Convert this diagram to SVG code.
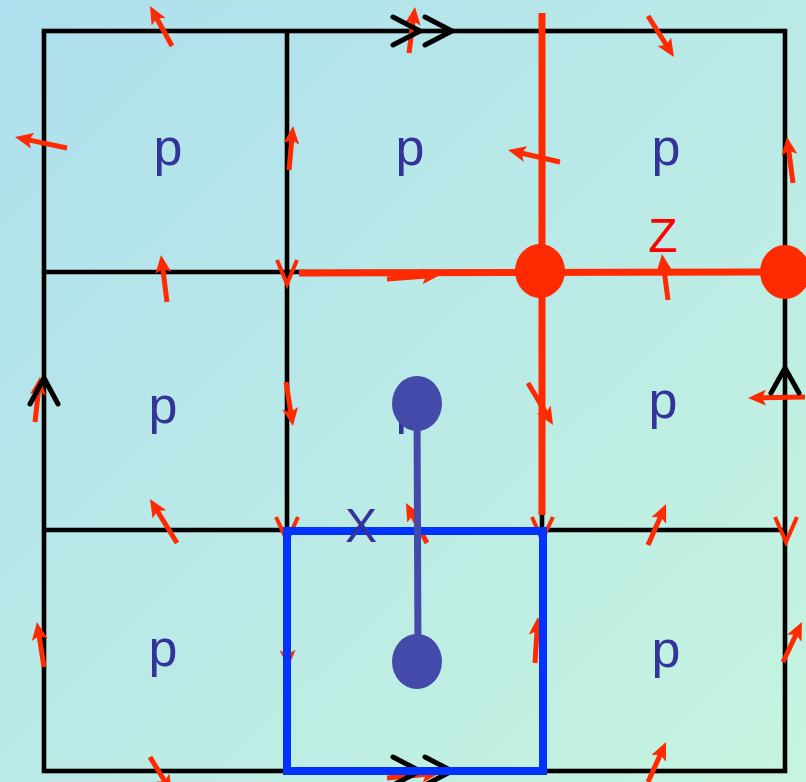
<svg xmlns="http://www.w3.org/2000/svg" width="806" height="782" viewBox="0 0 806 782">
<defs>
<linearGradient id="bg" x1="0" y1="0" x2="1" y2="1">
<stop offset="0" stop-color="#aedfee"/>
<stop offset="1" stop-color="#c6f4df"/>
</linearGradient>
<marker id="ah" markerUnits="userSpaceOnUse" markerWidth="19" markerHeight="17" refX="8" refY="8" orient="auto">
<path d="M0,0 L18,8 L0,16 L4,8 z" fill="#ff2a00"/>
</marker>
</defs>
<style>
.grid{stroke:#000;stroke-width:4.6;fill:none}
.chev{stroke:#000;stroke-width:5;fill:none;stroke-linecap:round;stroke-linejoin:round}
.spin{stroke:#ff2a00;stroke-width:5;fill:none;marker-end:url(#ah)}
.vmark{stroke:#ff2a00;stroke-width:4;fill:none}
.red{stroke:#ff2a00;stroke-width:7;fill:none}
.lbl{font-family:"Liberation Sans",Arial,sans-serif;font-size:52px;fill:#333399;text-anchor:middle}
</style>
<rect x="0" y="0" width="806" height="782" fill="url(#bg)"/>
<g id="grid">
<rect class="grid" x="44" y="31" width="741" height="740"/>
<line class="grid" x1="287" y1="31" x2="287" y2="771"/>
<line class="grid" x1="542" y1="31" x2="542" y2="771"/>
<line class="grid" x1="44" y1="272" x2="785" y2="272"/>
<line class="grid" x1="44" y1="530" x2="785" y2="530"/>
</g>
<g id="connectors">
<line class="spin" x1="172" y1="46" x2="154.8" y2="14.8"/>
<line class="spin" x1="67" y1="148" x2="24.8" y2="139.1"/>
<line class="spin" x1="289" y1="170" x2="292.1" y2="136"/>
<line class="spin" x1="167" y1="302" x2="162.3" y2="264.9"/>
<line class="spin" x1="409" y1="53" x2="413.7" y2="16.9"/>
<line class="spin" x1="560" y1="162" x2="517.7" y2="152.2"/>
<line class="spin" x1="387" y1="279" x2="430" y2="275.8"/>
<line class="spin" x1="648" y1="16" x2="668.6" y2="48.5"/>
<line class="spin" x1="793" y1="183" x2="788.3" y2="146.9"/>
<line class="spin" x1="668" y1="300" x2="663.3" y2="263.9"/>
<line class="spin" x1="35" y1="422" x2="38.9" y2="386.9"/>
<line class="spin" x1="286" y1="382" x2="291.4" y2="416.1"/>
<line class="spin" x1="177" y1="543" x2="155.2" y2="507.5"/>
<line class="spin" x1="528" y1="383" x2="547.9" y2="416.4"/>
<line class="spin" x1="427" y1="543" x2="410.6" y2="511.8"/>
<line class="spin" x1="805" y1="397" x2="758" y2="397.8"/>
<line class="spin" x1="648" y1="545" x2="662" y2="513.2"/>
<line class="spin" x1="44" y1="667" x2="38.5" y2="631.9"/>
<line class="spin" x1="287" y1="622" x2="287.8" y2="658"/>
<line class="spin" x1="150" y1="757" x2="166.8" y2="784.5"/>
<line class="spin" x1="535" y1="663" x2="537.3" y2="627"/>
<line class="spin" x1="387" y1="778" x2="430" y2="773.9"/>
<line class="spin" x1="783" y1="662" x2="797.7" y2="631"/>
<line class="spin" x1="648" y1="782" x2="661.9" y2="751.1"/>
<polyline class="vmark" points="277,260 287,284 297,260"/>
<polyline class="vmark" points="276,517 287,541 298,517"/>
<polyline class="vmark" points="532,517 542,540 553,517"/>
<polyline class="vmark" points="775,517 786,542 797,517"/>
<line class="red" x1="542" y1="13" x2="542" y2="515"/>
<line class="red" x1="299" y1="273" x2="785" y2="272"/>
</g>
<g id="chevrons">
<polyline class="chev" points="393,17 420,31 393,45"/>
<polyline class="chev" points="425,17 452,31 425,45"/>
<polyline class="chev" points="393,757 420,771 393,785"/>
<polyline class="chev" points="425,757 452,771 425,785"/>
<polyline class="chev" points="30,404 44,378 58,404"/>
<polyline class="chev" points="771,393 785,368 799,393"/>
</g>
<g id="z-nodes">
<ellipse id="z1" cx="540" cy="271" rx="25" ry="27" fill="#ff2a00"/>
<ellipse id="z2" cx="785" cy="272" rx="25" ry="27" fill="#ff2a00"/>
</g>
<g id="labels-p">
<text class="lbl" x="168" y="165">p</text>
<text class="lbl" x="410" y="165">p</text>
<text class="lbl" x="666" y="165">p</text>
<text class="lbl" x="163" y="423">p</text>
<text class="lbl" x="410" y="423">p</text>
<text class="lbl" x="663" y="418">p</text>
<text class="lbl" x="163" y="666">p</text>
<text class="lbl" x="666" y="667">p</text>
</g>
<g id="x-plaquette">
<rect x="287" y="531" width="256" height="240" fill="none" stroke="#0033ff" stroke-width="8"/>
</g>
<g id="dumbbell">
<line x1="417" y1="403" x2="418" y2="661" stroke="#444aaa" stroke-width="7"/>
<ellipse cx="417" cy="403.5" rx="25" ry="27.5" fill="#444aaa"/>
<ellipse cx="417" cy="661.5" rx="25" ry="27.5" fill="#444aaa"/>
</g>
<g id="labels">
<text x="361" y="542" font-family="Liberation Sans, Arial, sans-serif" font-size="48" fill="#333399" text-anchor="middle">X</text>
<text x="663" y="252" font-family="Liberation Sans, Arial, sans-serif" font-size="48" fill="#ff0000" text-anchor="middle">Z</text>
</g>
</svg>
